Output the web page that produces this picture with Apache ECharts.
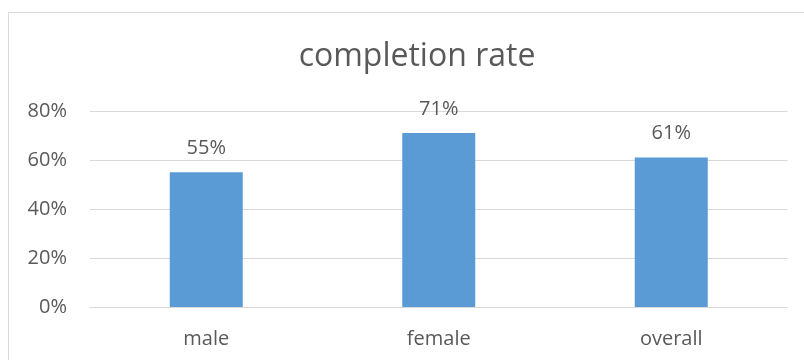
<!DOCTYPE html>
<html>
<head>
<meta charset="utf-8">
<script src="https://cdn.jsdelivr.net/npm/echarts@6/dist/echarts.min.js"></script>
<style>
  html, body { margin: 0; padding: 0; background: #ffffff; }
  #chart { width: 804px; height: 360px; }
</style>
</head>
<body>
<div id="chart"></div>
<script>
// Completion rate by group (percent)
const categories = ['male', 'female', 'overall'];
const completionRate = [55, 71, 61];
const yTicks = [0, 20, 40, 60, 80];

const textColor = '#595959';
const gridColor = '#D9D9D9';
const fontFamily = '"Open Sans", sans-serif';

const chart = echarts.init(document.getElementById('chart'), null, { renderer: 'canvas' });

chart.setOption({
  backgroundColor: '#ffffff',
  animation: false,
  title: {
    text: 'completion rate',
    left: 412,
    top: 36,
    textAlign: 'center',
    textStyle: {
      color: textColor,
      fontFamily: fontFamily,
      fontSize: 32,
      fontWeight: 'normal'
    }
  },
  graphic: [{
    type: 'rect',
    shape: { x: 8.5, y: 12.5, width: 900, height: 400 },
    style: { fill: 'none', stroke: gridColor, lineWidth: 1 },
    silent: true,
    z: -1
  }],
  grid: { left: 90, right: 16.5, top: 111, bottom: 53 },
  xAxis: {
    type: 'category',
    data: categories,
    axisLine: { show: true, lineStyle: { color: gridColor, width: 1 } },
    axisTick: { show: false },
    axisLabel: {
      color: textColor,
      fontFamily: fontFamily,
      fontSize: 20,
      margin: 22
    }
  },
  yAxis: {
    type: 'value',
    min: yTicks[0],
    max: yTicks[yTicks.length - 1],
    interval: yTicks[1] - yTicks[0],
    axisLine: { show: false },
    axisTick: { show: false },
    splitLine: { lineStyle: { color: gridColor, width: 1 } },
    axisLabel: {
      color: textColor,
      fontFamily: fontFamily,
      fontSize: 20,
      margin: 23,
      formatter: '{value}%'
    }
  },
  series: [{
    type: 'bar',
    data: completionRate,
    barWidth: 73,
    itemStyle: { color: '#5B9BD5' },
    label: {
      show: true,
      position: 'top',
      distance: 14,
      color: textColor,
      fontFamily: fontFamily,
      fontSize: 20,
      formatter: '{c}%'
    }
  }]
});
</script>
</body>
</html>
